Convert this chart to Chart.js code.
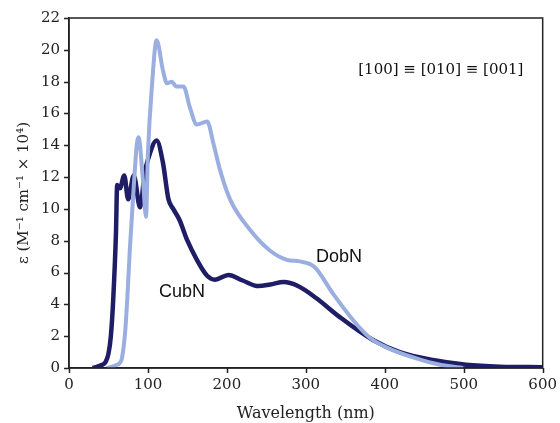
<!DOCTYPE html>
<html>
<head>
<meta charset="utf-8">
<script src="https://cdn.jsdelivr.net/npm/chart.js@4"></script>
<style>
  html, body { margin: 0; padding: 0; background: #fff; }
  #chart { display: block; }
</style>
</head>
<body>
<canvas id="chart" width="560" height="423"></canvas>
<script>
// wavelength (nm) and epsilon (M^-1 cm^-1 x 10^4)
const cubWl  = [30, 42, 46, 50, 53, 56, 59.5, 61, 64.5, 70, 75, 82, 90, 96, 100, 111, 119, 126, 132, 140, 150, 162, 175, 185, 202, 220, 240, 255, 272, 290, 313, 343, 385, 419, 461, 503, 546, 600];
const cubEps = [0, 0.2, 0.35, 0.9, 2.0, 4.3, 8.5, 11.5, 11.3, 12.1, 10.6, 12.1, 10.1, 12.3, 13.1, 14.3, 12.9, 10.6, 10.0, 9.3, 8.0, 6.8, 5.8, 5.55, 5.85, 5.5, 5.15, 5.25, 5.4, 5.15, 4.4, 3.2, 1.76, 1.0, 0.5, 0.2, 0.08, 0.05];

const dobWl  = [48, 61, 64, 67, 71, 74, 77, 81, 86, 88, 94, 97.5, 100, 105, 111, 119, 124, 130, 136, 145, 153, 162, 175, 183, 191, 204, 229, 254, 276, 292, 311, 334, 360, 381, 402, 440, 470, 499];
const dobEps = [0, 0.2, 0.3, 0.6, 2.2, 4.5, 7.4, 10.6, 14.1, 14.5, 11.6, 9.5, 13.5, 17.7, 20.6, 18.7, 17.9, 18.0, 17.7, 17.7, 16.4, 15.3, 15.5, 14.1, 12.5, 10.6, 8.7, 7.4, 6.8, 6.7, 6.35, 4.7, 3.0, 1.9, 1.3, 0.6, 0.2, 0];

const xTicks = [0, 100, 200, 300, 400, 500, 600];
const yTicks = [0, 2, 4, 6, 8, 10, 12, 14, 16, 18, 20, 22];

// text labels placed in data coordinates
const labels = [
  { text: "CubN", x: 143, y: 4.8, font: "18px 'Liberation Sans', Arial, sans-serif" },
  { text: "DobN", x: 342, y: 7.0, font: "18px 'Liberation Sans', Arial, sans-serif" },
  { text: "[100] \u2261 [010] \u2261 [001]", x: 471, y: 18.7, font: "15px 'DejaVu Serif', serif" }
];

function toPoints(xs, ys) {
  return xs.map((x, i) => ({ x: x, y: ys[i] }));
}

const serif = "'DejaVu Serif', 'Liberation Serif', serif";

// frame, outward tick marks and the text labels
const extras = {
  id: "extras",
  afterDraw(chart) {
    const ctx = chart.ctx;
    const a = chart.chartArea;
    const sx = chart.scales.x, sy = chart.scales.y;
    ctx.save();
    ctx.strokeStyle = "#222";
    ctx.lineWidth = 1.5;
    ctx.strokeRect(a.left, a.top, a.right - a.left, a.bottom - a.top);
    ctx.beginPath();
    xTicks.forEach(v => {
      const px = Math.round(sx.getPixelForValue(v)) + 0.5;
      ctx.moveTo(px, a.bottom);
      ctx.lineTo(px, a.bottom + 5);
    });
    yTicks.forEach(v => {
      const py = Math.round(sy.getPixelForValue(v)) + 0.5;
      ctx.moveTo(a.left, py);
      ctx.lineTo(a.left - 5, py);
    });
    ctx.stroke();
    ctx.fillStyle = "#111";
    ctx.textAlign = "center";
    ctx.textBaseline = "middle";
    labels.forEach(l => {
      ctx.font = l.font;
      ctx.fillText(l.text, sx.getPixelForValue(l.x), sy.getPixelForValue(l.y));
    });
    ctx.restore();
  }
};

new Chart(document.getElementById("chart"), {
  type: "line",
  data: {
    datasets: [
      {
        label: "DobN",
        data: toPoints(dobWl, dobEps),
        borderColor: "#9aaee0",
        borderWidth: 4,
        pointRadius: 0,
        cubicInterpolationMode: "monotone",
        fill: false
      },
      {
        label: "CubN",
        data: toPoints(cubWl, cubEps),
        borderColor: "#1f1d66",
        borderWidth: 4.5,
        pointRadius: 0,
        cubicInterpolationMode: "monotone",
        fill: false
      }
    ]
  },
  options: {
    responsive: false,
    animation: false,
    layout: { padding: { left: 0, right: 17, top: 18, bottom: 0 } },
    plugins: {
      legend: { display: false },
      tooltip: { enabled: false }
    },
    scales: {
      x: {
        type: "linear",
        min: 0,
        max: 600,
        afterBuildTicks: s => { s.ticks = xTicks.map(v => ({ value: v })); },
        afterFit: s => { s.height = 55; },
        ticks: { color: "#222", font: { family: serif, size: 15 }, padding: 3, maxRotation: 0 },
        grid: { drawOnChartArea: false, drawTicks: true, tickLength: 5, color: "rgba(0,0,0,0)" },
        border: { display: true, color: "#222", width: 1.5 },
        title: { display: true, text: "Wavelength (nm)", color: "#222", font: { family: serif, size: 16 }, padding: { top: 1, bottom: 0 } }
      },
      y: {
        type: "linear",
        min: 0,
        max: 22,
        afterBuildTicks: s => { s.ticks = yTicks.map(v => ({ value: v })); },
        afterFit: s => { s.width = 69; },
        ticks: { color: "#222", font: { family: serif, size: 15 }, padding: 4 },
        grid: { drawOnChartArea: false, drawTicks: true, tickLength: 5, color: "rgba(0,0,0,0)" },
        border: { display: true, color: "#222", width: 1.5 },
        title: { display: true, text: "\u03b5 (M\u207b\u00b9 cm\u207b\u00b9 \u00d7 10\u2074)", color: "#222", font: { family: serif, size: 15 }, padding: { top: 15, bottom: 2 } }
      }
    }
  },
  plugins: [extras]
});
</script>
</body>
</html>
